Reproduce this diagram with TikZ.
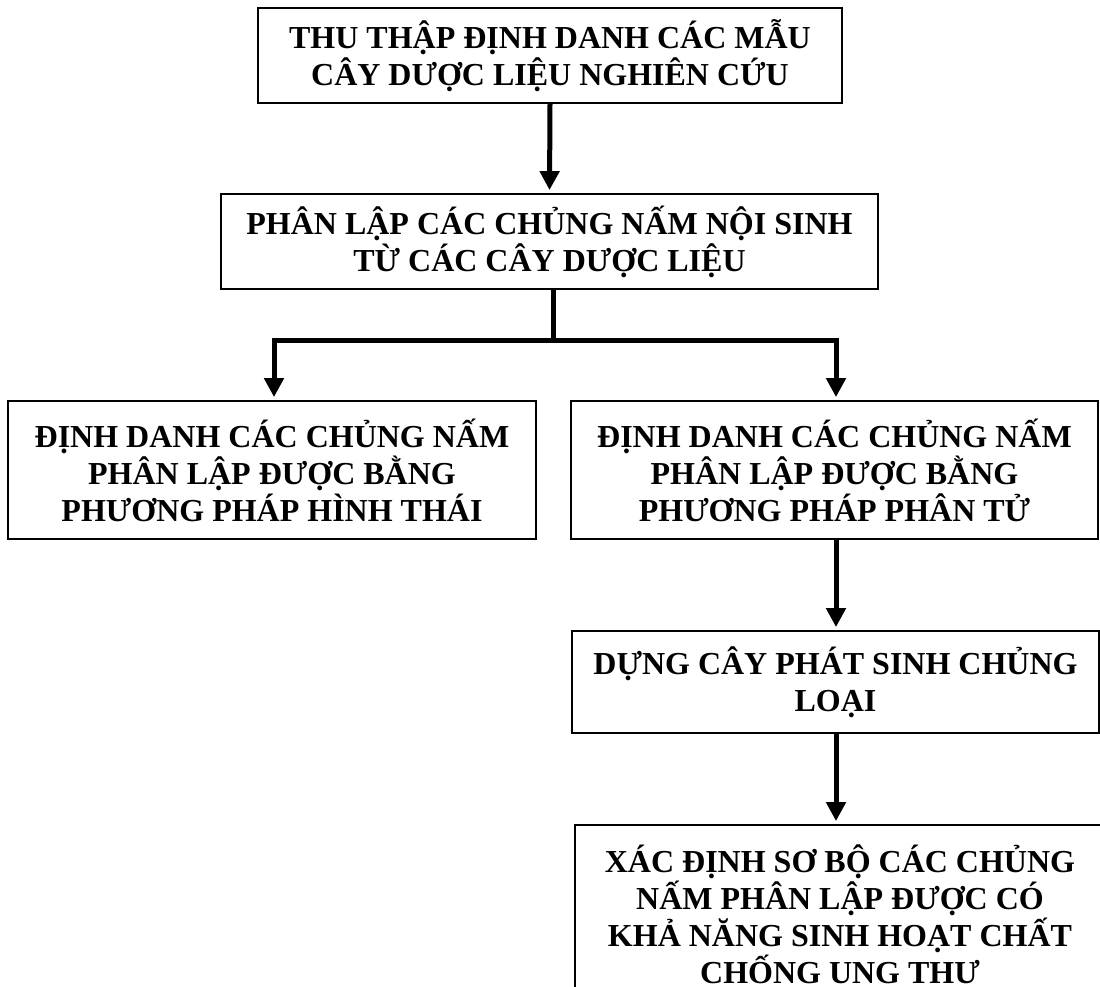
\documentclass[tikz,border=0pt]{standalone}
\usepackage{fontspec}
\setmainfont{Liberation Serif}
\usetikzlibrary{arrows.meta}
\begin{document}
\begin{tikzpicture}[x=1pt,y=-1pt,
  box/.style={draw=black, line width=1.8pt, align=center, inner sep=0pt,
    font=\fontsize{32}{37}\selectfont\bfseries},
  conn/.style={line width=5pt, line join=miter, line cap=butt},
  arr/.style={conn, -{Triangle[width=19pt,length=19pt]}, shorten >=3pt}]
\useasboundingbox (0,0) rectangle (1100,987);
\clip (0,0) rectangle (1100,987);
\fill[white] (0,0) rectangle (1100,987);
\node[box, minimum width=584pt, minimum height=95pt] (b1) at (550,55.5)
  {THU THẬP ĐỊNH DANH CÁC MẪU\\CÂY DƯỢC LIỆU NGHIÊN CỨU};
\node[box, minimum width=657pt, minimum height=95pt] (b2) at (549.5,241.5)
  {PHÂN LẬP CÁC CHỦNG NẤM NỘI SINH\\TỪ CÁC CÂY DƯỢC LIỆU};
\node[box, minimum width=528pt, minimum height=138pt] (b3) at (272,470)
  {ĐỊNH DANH CÁC CHỦNG NẤM\\PHÂN LẬP ĐƯỢC BẰNG\\PHƯƠNG PHÁP HÌNH THÁI};
\node[box, minimum width=527pt, minimum height=138pt] (b4) at (834.5,470)
  {ĐỊNH DANH CÁC CHỦNG NẤM\\PHÂN LẬP ĐƯỢC BẰNG\\PHƯƠNG PHÁP PHÂN TỬ};
\node[box, minimum width=527pt, minimum height=102pt] (b5) at (835.5,682)
  {DỰNG CÂY PHÁT SINH CHỦNG\\LOẠI};
\node[box, minimum width=530pt, minimum height=178pt] (b6) at (840,914)
  {XÁC ĐỊNH SƠ BỘ CÁC CHỦNG\\NẤM PHÂN LẬP ĐƯỢC CÓ\\KHẢ NĂNG SINH HOẠT CHẤT\\CHỐNG UNG THƯ};
\draw[arr] (b1.south) -- (b2.north);
\coordinate (j) at (553,340);
\draw[conn] (b2.south -| j) -- (j);
\draw[arr] (j) -| (b3.north -| 274,0);
\draw[arr] (j) -| (b4.north -| 836,0);
\draw[arr] (b4.south -| 836,0) -- (b5.north -| 836,0);
\draw[arr] (b5.south -| 836,0) -- (b6.north -| 836,0);
\end{tikzpicture}
\end{document}
